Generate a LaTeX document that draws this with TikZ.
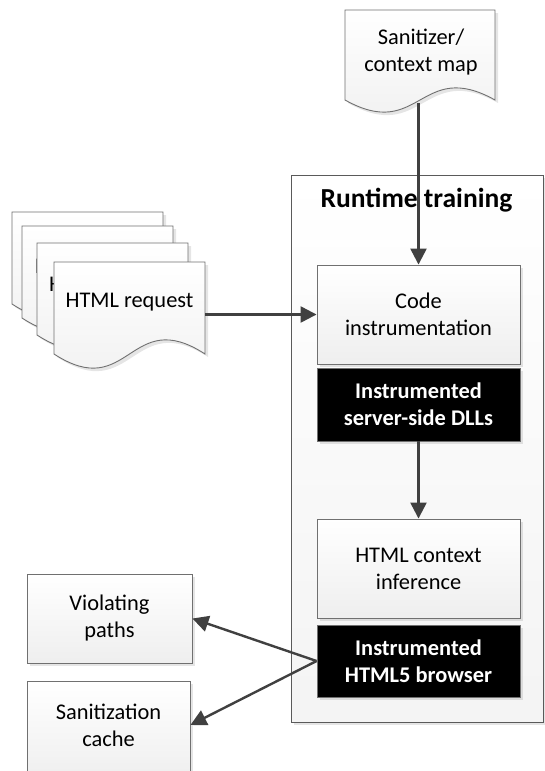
\documentclass[tikz,border=0pt]{standalone}
\usepackage{fontspec}
\setmainfont{Carlito}
\usetikzlibrary{arrows.meta,shadows,calc}
\definecolor{edgecol}{RGB}{112,112,112}
\definecolor{framecol}{RGB}{90,90,90}
\definecolor{arrcol}{RGB}{64,64,64}
\tikzset{
  shd/.style={drop shadow={shadow xshift=3pt,shadow yshift=-3pt,fill=black,opacity=0.10}},
  txt/.style={font={\fontsize{22.4}{27}\selectfont}, align=center, inner sep=0pt},
  procbox/.style={draw=edgecol, line width=0.9pt, top color=white, bottom color=gray!13, shd,
     inner sep=0pt, align=center, font={\fontsize{22.4}{27}\selectfont}},
  blackbox/.style={draw=edgecol, line width=0.9pt, fill=black, text=white, shd,
     inner sep=0pt, align=center, font={\fontsize{22.4}{27}\selectfont\bfseries},
     minimum width=203pt},
  docpath/.style={draw=edgecol, line width=0.9pt, top color=white, bottom color=gray!13, shd},
  frame/.style={draw=framecol, line width=1pt, top color=white, bottom color=gray!9, shd},
  conn/.style={draw=arrcol, line width=2.4pt, -{Triangle[length=16pt,width=16pt]}},
}
% document shape: x, top y, width, height to corners, amplitude
\newcommand{\mydoc}[5]{%
  \path[docpath] (#1,#2) -- (#1+#3,#2) -- (#1+#3,#2+#4)
    .. controls (#1+0.5*#3,#2+#4-3.5*#5) and (#1+0.5*#3,#2+#4+3.5*#5) .. (#1,#2+#4) -- cycle;}
\begin{document}
\begin{tikzpicture}[x=1pt,y=-1pt]
\useasboundingbox (0,0) rectangle (545,771);
\fill[white] (0,0) rectangle (545,771);

% runtime training frame
\node[frame, minimum width=252pt, minimum height=547pt, inner sep=0pt] (rt) at (417,448.5) {};
\node[txt, font={\fontsize{27.5}{32}\selectfont\bfseries}] (rttitle) at (416.5,200) {Runtime training};

% stacked HTML request documents (back ones show only the edge of their text)
\mydoc{12}{212}{151}{92}{14}
\mydoc{22}{226}{151}{92}{14}
\begin{scope}
  \clip (22,226) rectangle (37,330);
  \node[txt, anchor=west] (req2) at (35,266) {H};
\end{scope}
\mydoc{37}{243}{151}{92}{14}
\begin{scope}
  \clip (37,243) rectangle (54,345);
  \node[txt, anchor=west] (req3) at (49,284) {H};
\end{scope}
\mydoc{54}{262}{151}{92}{14}
\node[txt] (req) at (129.5,302) {HTML request};
\node[minimum width=151pt, minimum height=92pt, inner sep=0pt] (reqdoc) at (129.5,308) {};

% sanitizer / context map document
\mydoc{345}{10}{150}{90}{12}
\node[txt] (san) at (421,52) {Sanitizer/\\context map};
\node[minimum width=150pt, minimum height=90pt, inner sep=0pt] (sandoc) at (420,55) {};
\coordinate (sanout) at (418.5,103);

% process boxes
\node[procbox, minimum width=203pt, minimum height=99pt] (code) at (418.5,314.5) {Code\\instrumentation};
\node[blackbox, minimum height=73pt] (dlls) at (418.5,404.5) {Instrumented\\server-side DLLs};
\node[procbox, minimum width=203pt, minimum height=99pt] (ctx) at (418.5,568.5) {HTML context\\inference};
\node[blackbox, minimum height=72pt] (brw) at (418.5,661) {Instrumented\\HTML5 browser};

\node[procbox, minimum width=165pt, minimum height=89pt] (viol) at (109.5,618.5) {Violating\\paths};
\node[procbox, minimum width=163pt, minimum height=100pt] (cache) at (108.5,731) {};
\node[txt] (cachetxt) at (108.5,725) {Sanitization\\cache};

% connectors
\draw[conn] (sanout) -- (code.north);
\draw[conn] (reqdoc.east |- code.west) -- (code.west);
\draw[conn] (dlls.south) -- (ctx.north);
\draw[conn] (brw.west) -- (viol.east);
\draw[conn] (brw.west) -- (cache.east |- cachetxt);
\end{tikzpicture}
\end{document}
